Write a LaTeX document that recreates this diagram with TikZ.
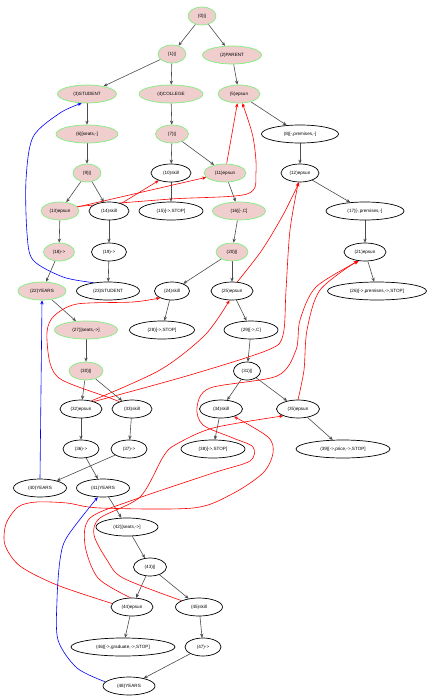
\documentclass[tikz,border=0pt]{standalone}
\usepackage{fontspec}
\setmainfont{Liberation Sans}
\usetikzlibrary{shapes.geometric,arrows.meta}
\definecolor{pinkfill}{RGB}{240,206,206}
\definecolor{greenline}{RGB}{128,238,128}
\pgfdeclarelayer{bg}
\pgfsetlayers{bg,main}
\tikzset{
  nd/.style={ellipse, inner sep=0pt, minimum height=18pt, font=\fontsize{4.6}{5}\selectfont, line width=0.7pt},
  hi/.style={nd, draw=greenline, fill=pinkfill},
  lo/.style={nd, draw=black, fill=white},
  tr/.style={draw=black!70, line width=0.6pt, -{Stealth[length=4pt,width=3.4pt]}},
  rd/.style={draw=red, line width=0.6pt, -{Stealth[length=4pt,width=3.4pt]}},
  bl/.style={draw=blue, line width=0.6pt, -{Stealth[length=4pt,width=3.4pt]}},
}
\begin{document}
\begin{tikzpicture}[x=1pt,y=-1pt]
\useasboundingbox (0,0) rectangle (430,698);
\node[hi, minimum width=28pt] (n0) at (202,16) {(0)||};
\node[hi, minimum width=28pt] (n1) at (172,54) {(1)||};
\node[hi, minimum width=59pt] (n2) at (232,55) {(2)PARENT};
\node[hi, minimum width=59pt] (n3) at (87,94) {(3)STUDENT};
\node[hi, minimum width=64pt] (n4) at (171,94) {(4)COLLEGE};
\node[hi, minimum width=42pt] (n5) at (239,94) {(5)epsun};
\node[hi, minimum width=62pt] (n6) at (87,134) {(6)[seats,-]};
\node[hi, minimum width=33pt] (n7) at (172,134) {(7)||};
\node[lo, minimum width=77pt] (n8) at (300,134) {(8)[-,premises,-]};
\node[hi, minimum width=28pt] (n9) at (87,173) {(9)||};
\node[lo, minimum width=40pt] (n10) at (171,173) {(10)skill};
\node[hi, minimum width=42pt] (n11) at (225,173) {(11)epsun};
\node[lo, minimum width=38pt] (n12) at (300,173) {(12)epsun};
\node[hi, minimum width=38pt] (n13) at (60,211) {(13)epsun};
\node[lo, minimum width=40pt] (n14) at (109,211) {(14)skill};
\node[lo, minimum width=64pt] (n15) at (171,211) {(15)[->,STOP]};
\node[hi, minimum width=53pt] (n16) at (239,211) {(16)[-,C]};
\node[lo, minimum width=78pt] (n17) at (365,211) {(17)[-,premises,-]};
\node[hi, minimum width=31pt] (n18) at (59,252) {(18)->};
\node[lo, minimum width=35pt] (n19) at (109,252) {(19)->};
\node[hi, minimum width=32pt] (n20) at (232,252) {(20)||};
\node[lo, minimum width=42pt] (n21) at (365,252) {(21)epsun};
\node[hi, minimum width=48pt] (n22) at (42,291) {(22)YEARS};
\node[lo, minimum width=63pt] (n23) at (108,291) {(23)STUDENT};
\node[lo, minimum width=35pt] (n24) at (172,291) {(24)skill};
\node[lo, minimum width=42pt] (n25) at (232,291) {(25)epsun};
\node[lo, minimum width=99pt] (n26) at (377,291) {(26)[->,premises,->,STOP]};
\node[hi, minimum width=63pt] (n27) at (86,330) {(27)[seats,->]};
\node[lo, minimum width=65pt] (n28) at (162,330) {(28)[->,STOP]};
\node[lo, minimum width=54pt] (n29) at (251,330) {(29)[->,C]};
\node[hi, minimum width=34pt] (n30) at (86,371) {(30)||};
\node[lo, minimum width=27pt] (n31) at (247,371) {(31)||};
\node[lo, minimum width=42pt] (n32) at (81,409) {(32)epsun};
\node[lo, minimum width=40pt] (n33) at (132,409) {(33)skill};
\node[lo, minimum width=43pt] (n34) at (221,409) {(34)skill};
\node[lo, minimum width=43pt] (n35) at (298,409) {(35)epsun};
\node[lo, minimum width=36pt] (n36) at (81,449) {(36)->};
\node[lo, minimum width=36pt] (n37) at (129,449) {(37)->};
\node[lo, minimum width=64pt] (n38) at (213,449) {(38)[->,STOP]};
\node[lo, minimum width=94pt] (n39) at (343,449) {(39)[->,price,->,STOP]};
\node[lo, minimum width=53pt] (n40) at (40,488) {(40)YEARS};
\node[lo, minimum width=53pt] (n41) at (103,488) {(41)YEARS};
\node[lo, minimum width=62pt] (n42) at (127,527) {(42)[seats,->]};
\node[lo, minimum width=33pt] (n43) at (150,567) {(43)||};
\node[lo, minimum width=42pt] (n44) at (132,607) {(44)epsun};
\node[lo, minimum width=47pt] (n45) at (199,607) {(45)skill};
\node[lo, minimum width=104pt] (n46) at (123,647) {(46)[->,graduate,->,STOP]};
\node[lo, minimum width=36pt] (n47) at (203,647) {(47)->};
\node[lo, minimum width=52pt] (n48) at (129,686) {(48)YEARS};
\begin{pgfonlayer}{bg}
% tree edges
\foreach \a/\b in {n0/n1,n0/n2,n1/n3,n1/n4,n2/n5,n3/n6,n4/n7,n5/n8,n6/n9,n7/n10,n7/n11,n8/n12,
  n9/n13,n9/n14,n10/n15,n11/n16,n12/n17,n13/n18,n14/n19,n16/n20,n17/n21,n18/n22,n19/n23,
  n20/n24,n20/n25,n21/n26,n22/n27,n24/n28,n25/n29,n27/n30,n29/n31,n30/n32,n30/n33,n31/n34,
  n31/n35,n32/n36,n33/n37,n34/n38,n35/n39,n36/n41,n37/n40,n41/n42,n42/n43,n43/n44,n43/n45,
  n44/n46,n45/n47,n47/n48}
  \draw[tr] (\a) -- (\b);
% red edges
\draw[rd] (n13) -- (n11);
\draw[rd] (n14) -- (n10);
\draw[rd] (n11) -- (n5);
\draw[rd] plot[smooth] coordinates {(n13.15) (171,199) (247,194) (256,172) (253,137) (n5.-70)};
\draw[rd] plot[smooth] coordinates {(n25.60) (262,250) (283,215) (n12.-95)};
\draw[rd] plot[smooth] coordinates {(n32.30) (190,375) (268,350) (283,335) (286,290) (290,230) (n12.-100)};
\draw[rd] plot[smooth] coordinates {(n33.150) (110,398) (62,380) (50,363) (47,332) (54,316) (77,304) (133,302) (n24.210)};
\draw[rd] plot[smooth] coordinates {(n32.38) (160,370) (205,335) (n25.-105)};
\draw[rd] plot[smooth] coordinates {(n35.north) (304,370) (307,330) (320,290) (n21.-130)};
\draw[rd] plot[smooth] coordinates {(n44.100) (98,578) (85,545) (90,518) (133,500) (213,473) (250,461) (253,447) (233,438) (203,425) (197,407) (210,388) (277,376) (296,350) (300,320) (316,287) (n21.-125)};
\draw[rd] plot[smooth] coordinates {(n44.170) (57,585) (20,566) (5,545) (6,524) (18,507) (36,502) (67,503) (100,508) (193,508) (232,494) (263,473) (273,453) (268,437) (n34.-30)};
\draw[rd] plot[smooth] coordinates {(n45.160) (123,578) (107,560) (94,535) (100,518) (140,497) (163,457) (175,445) (213,428) (n35.205)};
% blue edges
\draw[bl] plot[smooth] coordinates {(n23.150) (63,277) (33,260) (27,233) (26,180) (33,137) (60,113) (n3.-120)};
\draw[bl] (n40.north) -- (n22.south);
\draw[bl] plot[smooth] coordinates {(n48.170) (77,668) (58,640) (57,600) (60,560) (67,537) (n41.-120)};
\end{pgfonlayer}
\end{tikzpicture}
\end{document}
